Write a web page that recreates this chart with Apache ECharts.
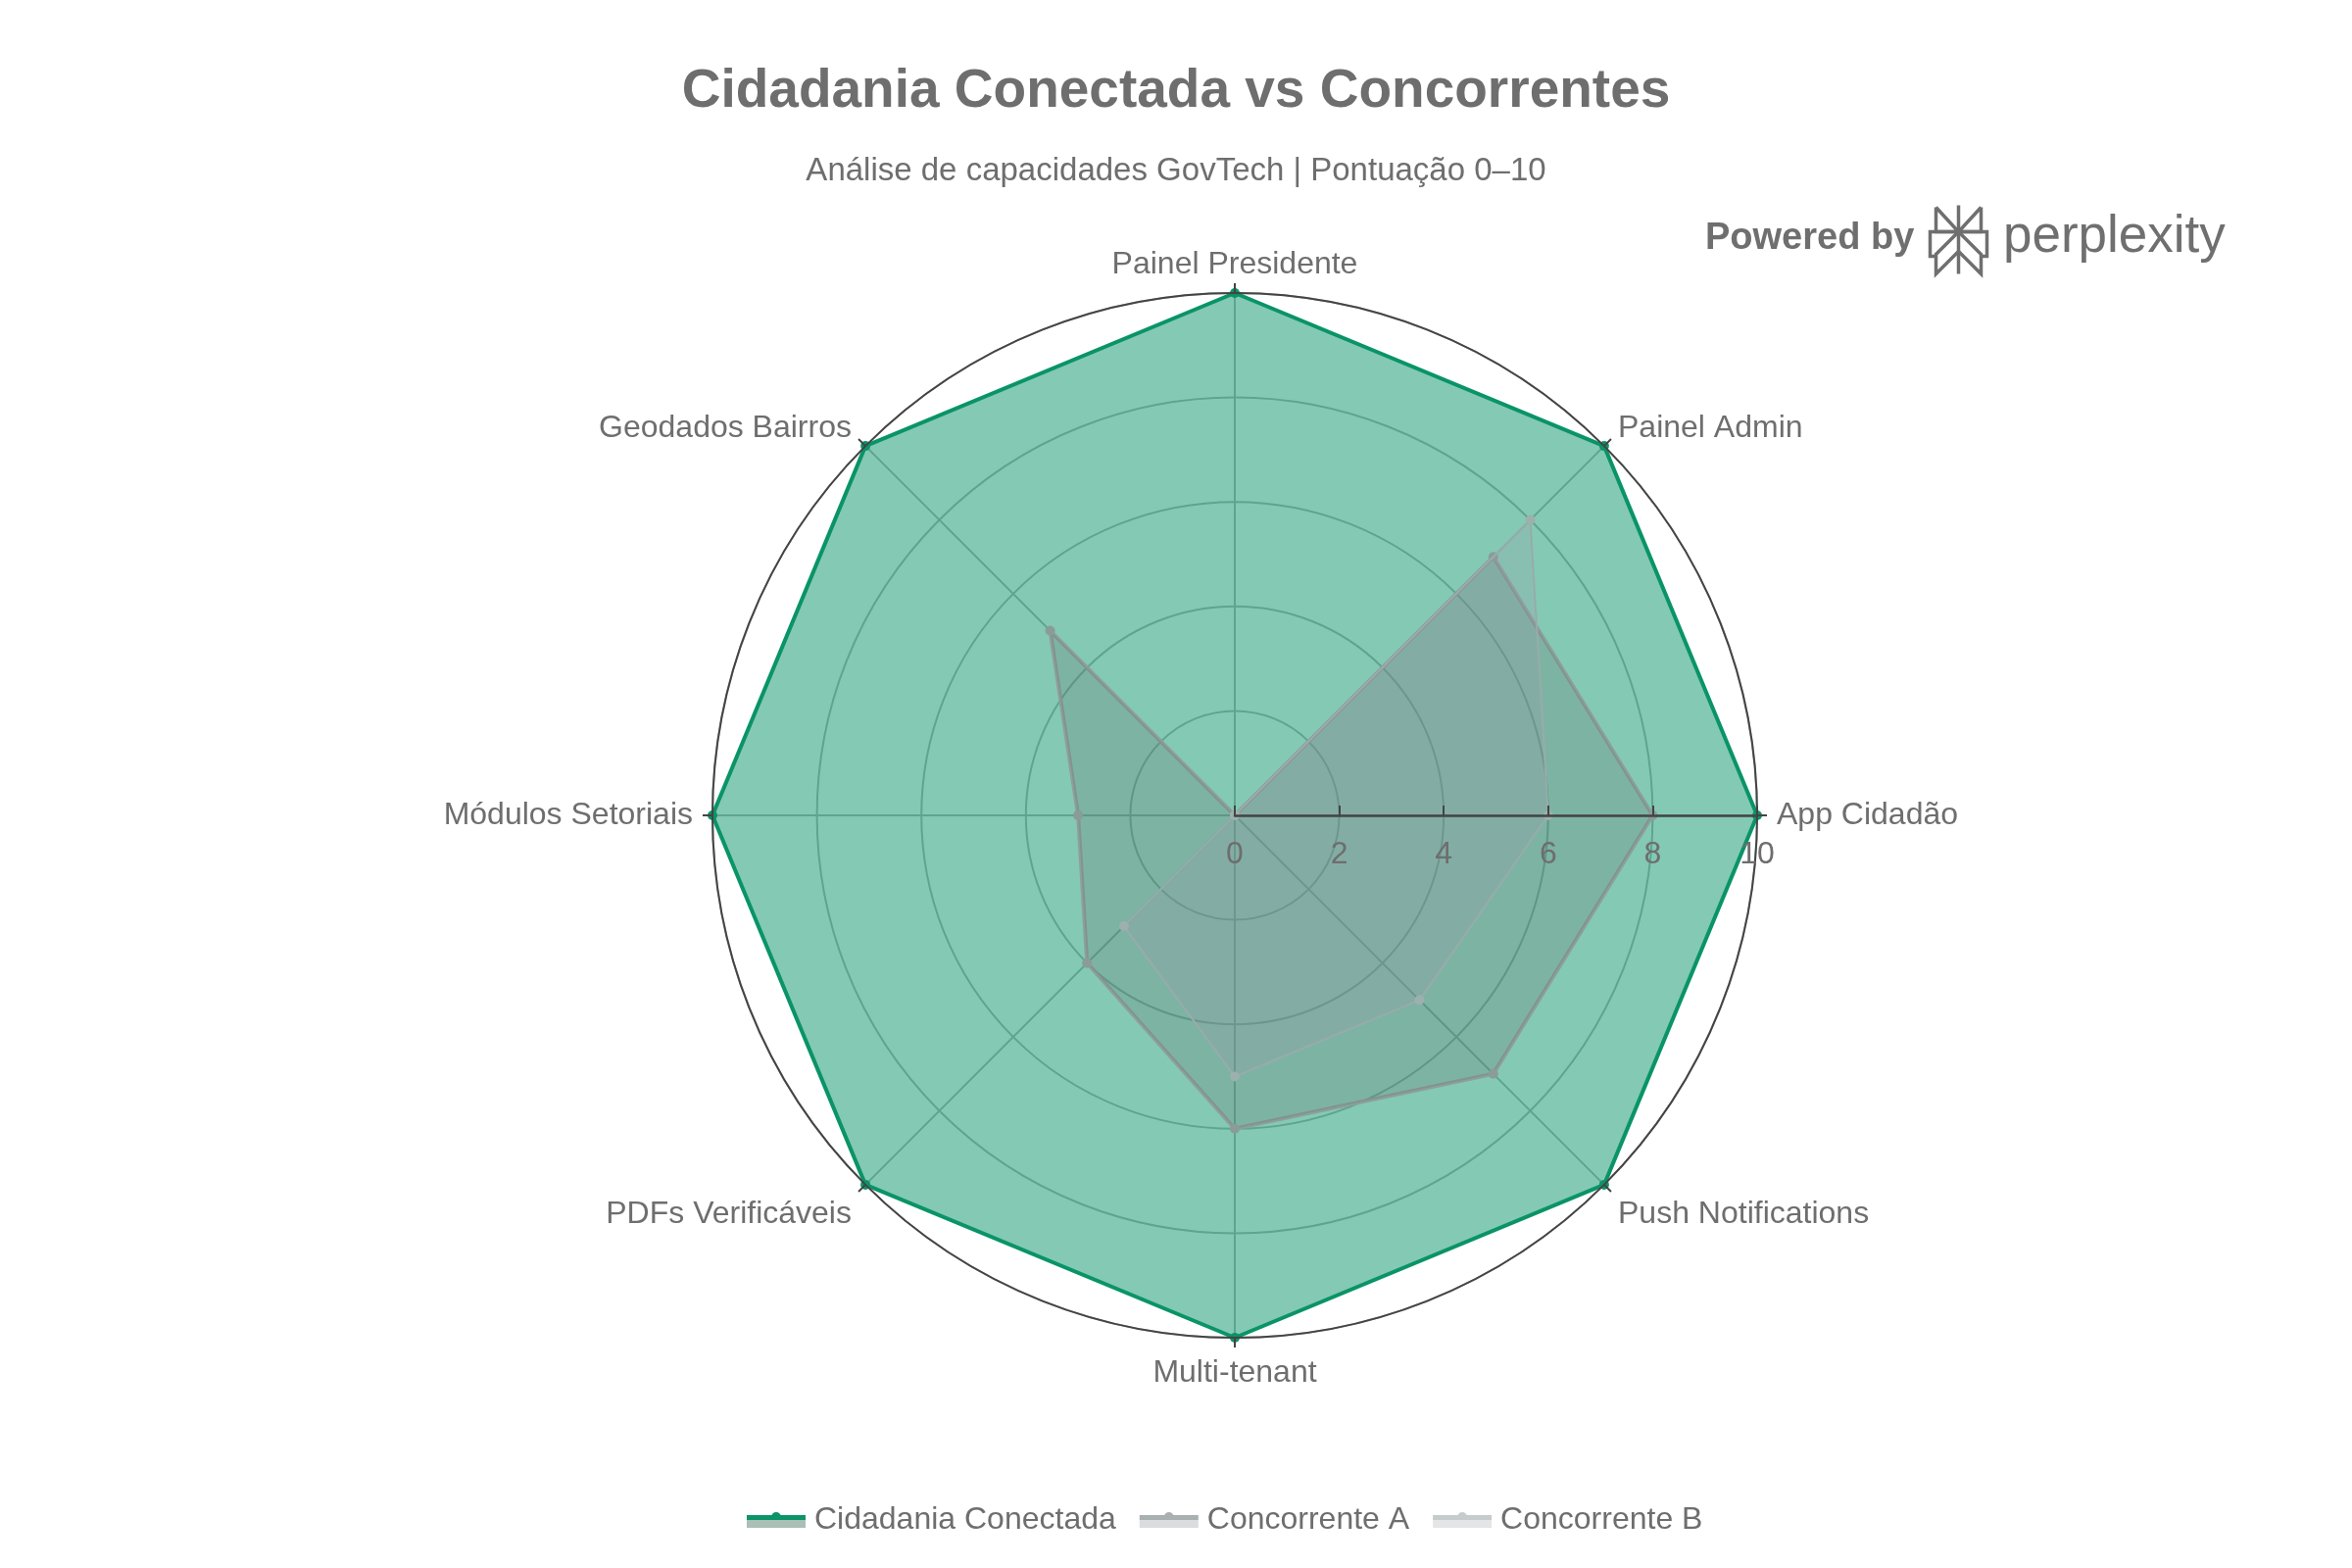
<!DOCTYPE html>
<html>
<head>
<meta charset="utf-8">
<title>Cidadania Conectada vs Concorrentes</title>
<script src="https://cdn.jsdelivr.net/npm/echarts@6/dist/echarts.min.js"></script>
<style>
  html, body { margin: 0; padding: 0; background: #fff; }
  #chart { width: 2400px; height: 1600px; }
</style>
</head>
<body>
<div id="chart"></div>
<script>
// capability axes, counter-clockwise from the east
var capabilities = ['App Cidadão', 'Painel Admin', 'Painel Presidente', 'Geodados Bairros',
	'Módulos Setoriais', 'PDFs Verificáveis', 'Multi-tenant', 'Push Notifications'];
var seriesNames = ['Cidadania Conectada', 'Concorrente A', 'Concorrente B'];
var cidadaniaScores = [10, 10, 10, 10, 10, 10, 10, 10];
var concorrenteAScores = [8, 7, 0, 5, 3, 4, 6, 7];
var concorrenteBScores = [6, 8, 0, 0, 0, 3, 5, 5];
var scoreMin = 0, scoreMax = 10, scoreStep = 2;

var FONT = '"Liberation Sans", Arial, sans-serif';
var TEXT = '#6e6e6e';
var CENTER = [1260, 832];
var RADIUS = 533;

// small per-label nudges so the names sit like the original
var nameStyleKey = {
	'Painel Presidente': 'top',
	'Painel Admin': 'upper',
	'Geodados Bairros': 'upper',
	'PDFs Verificáveis': 'lower',
	'Push Notifications': 'lower'
};

var chart = echarts.init(document.getElementById('chart'));

// line + marker on top, fill band below (coloured through a gradient)
var legendIcon = 'path://M0,3 H60 V16 H0 Z M25,5 A5,5 0 1,1 35,5 A5,5 0 1,1 25,5 Z';
function iconFill(lineColor, fillColor) {
	return new echarts.graphic.LinearGradient(0, 0, 0, 1, [
		{ offset: 0, color: lineColor },
		{ offset: 0.47, color: lineColor },
		{ offset: 0.47, color: fillColor },
		{ offset: 1, color: fillColor }
	]);
}

function nameStyle(extra) {
	var s = { fontSize: 32, color: TEXT, fontFamily: FONT };
	for (var k in extra) s[k] = extra[k];
	return s;
}

var option = {
	backgroundColor: '#fff',
	textStyle: { fontFamily: FONT },
	title: [{
		text: 'Cidadania Conectada vs Concorrentes',
		left: 'center', top: 61,
		textStyle: { fontSize: 55, fontWeight: 'bold', color: TEXT, fontFamily: FONT }
	}, {
		text: 'Análise de capacidades GovTech | Pontuação 0–10',
		left: 'center', top: 153,
		textStyle: { fontSize: 33, fontWeight: 'normal', color: TEXT, fontFamily: FONT }
	}],
	legend: {
		left: 757, top: 1530,
		itemWidth: 60, itemHeight: 16, itemGap: 24,
		icon: legendIcon,
		textStyle: { fontSize: 32, color: TEXT, fontFamily: FONT, padding: [0, 0, 0, 4] },
		data: [
			{ name: seriesNames[0], itemStyle: { color: iconFill('#0a9468', '#aabfb5') } },
			{ name: seriesNames[1], itemStyle: { color: iconFill('#a9b0b0', '#dadcdd') } },
			{ name: seriesNames[2], itemStyle: { color: iconFill('#c6cccc', '#e4e5e6') } }
		]
	},
	radar: {
		center: CENTER,
		radius: RADIUS,
		startAngle: 0,
		shape: 'circle',
		splitNumber: 5,
		nameGap: 20,
		indicator: capabilities.map(function (c) { return { name: c, min: scoreMin, max: scoreMax }; }),
		axisName: {
			color: TEXT, fontSize: 32, fontFamily: FONT,
			formatter: function (name) { return '{' + (nameStyleKey[name] || 'base') + '|' + name + '}'; },
			rich: {
				base: nameStyle({}),
				top: nameStyle({ lineHeight: 18 }),
				upper: nameStyle({ padding: [0, 0, 8, 0] }),
				lower: nameStyle({ padding: [32, 0, 0, 0] })
			}
		},
		axisLine: { lineStyle: { color: '#b4b4b4', width: 2 } },
		splitLine: { lineStyle: { color: '#b4b4b4', width: 2 } },
		splitArea: { show: false }
	},
	polar: { center: CENTER, radius: RADIUS },
	angleAxis: {
		type: 'value', min: 0, max: 360, interval: 45, startAngle: 0, z: 5,
		axisLine: { lineStyle: { color: '#444', width: 2 } },
		axisTick: { show: true, length: 10, lineStyle: { color: '#444', width: 2 } },
		axisLabel: { show: false },
		splitLine: { show: false }
	},
	radiusAxis: {
		type: 'value', min: scoreMin, max: scoreMax, interval: scoreStep, z: 5,
		axisLine: { lineStyle: { color: '#444', width: 2.5 } },
		axisTick: { show: true, inside: true, length: 10, lineStyle: { color: '#444', width: 2 } },
		// labels pushed below the axis line, as in the original
		axisLabel: { fontSize: 32, color: TEXT, fontFamily: FONT, margin: -24, verticalAlign: 'top', align: 'center' },
		splitLine: { show: false }
	},
	series: [{
		name: seriesNames[0], type: 'radar', z: 2,
		symbol: 'circle', symbolSize: 10,
		lineStyle: { color: '#0a9468', width: 4 },
		itemStyle: { color: '#0a9468' },
		areaStyle: { color: '#0a9468', opacity: 0.5 },
		data: [{ name: seriesNames[0], value: cidadaniaScores }]
	}, {
		name: seriesNames[1], type: 'radar', z: 3,
		symbol: 'circle', symbolSize: 10,
		lineStyle: { color: '#8ca09b', width: 4 },
		itemStyle: { color: '#8a9c98' },
		areaStyle: { color: 'rgb(98,102,107)', opacity: 0.22 },
		data: [{ name: seriesNames[1], value: concorrenteAScores }]
	}, {
		name: seriesNames[2], type: 'radar', z: 4,
		symbol: 'circle', symbolSize: 10,
		lineStyle: { color: '#98aeab', width: 2 },
		itemStyle: { color: '#9cb0ad' },
		areaStyle: { color: 'rgb(155,157,173)', opacity: 0.22 },
		data: [{ name: seriesNames[2], value: concorrenteBScores }]
	}],
	graphic: [{
		type: 'text', left: 1740, top: 225, z: 10,
		style: { text: 'Powered by', font: 'bold 38px ' + FONT, fill: '#6f6f6f' }
	}, {
		type: 'group', left: 1967, top: 207, z: 10,
		children: [
			{ type: 'polyline', shape: { points: [[29, 0], [29, 70]] }, style: { stroke: '#6f6f6f', lineWidth: 3.5, fill: null } },
			{ type: 'polyline', shape: { points: [[6, 2], [6, 27], [29, 27], [6, 2]] }, style: { stroke: '#6f6f6f', lineWidth: 3.5, fill: null } },
			{ type: 'polyline', shape: { points: [[52, 2], [52, 27], [29, 27], [52, 2]] }, style: { stroke: '#6f6f6f', lineWidth: 3.5, fill: null } },
			{ type: 'polyline', shape: { points: [[6, 52], [0, 52], [0, 27], [58, 27], [58, 52], [52, 52]] }, style: { stroke: '#6f6f6f', lineWidth: 3.5, fill: null } },
			{ type: 'polyline', shape: { points: [[29, 27], [6, 50], [6, 70], [29, 47]] }, style: { stroke: '#6f6f6f', lineWidth: 3.5, fill: null } },
			{ type: 'polyline', shape: { points: [[29, 27], [52, 50], [52, 70], [29, 47]] }, style: { stroke: '#6f6f6f', lineWidth: 3.5, fill: null } }
		]
	}, {
		type: 'text', left: 2044, top: 216, z: 10,
		style: { text: 'perplexity', font: '53px ' + FONT, fill: '#6f6f6f' }
	}]
};

chart.setOption(option);
</script>
</body>
</html>
